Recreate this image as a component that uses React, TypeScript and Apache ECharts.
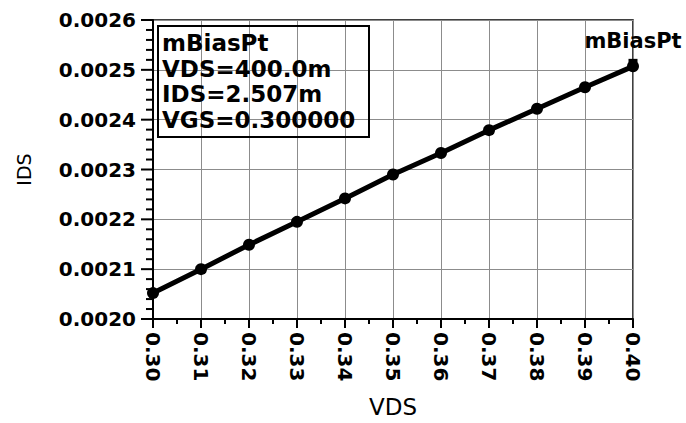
import React, { useEffect, useRef } from "react";
import * as echarts from "echarts";

const vds = [0.30, 0.31, 0.32, 0.33, 0.34, 0.35, 0.36, 0.37, 0.38, 0.39, 0.40];
const ids = [0.002052, 0.0021, 0.002149, 0.002195, 0.002242, 0.00229, 0.002333, 0.002379, 0.002422, 0.002465, 0.002507];

const markerName = "mBiasPt";
const markerVds = 0.40;
const markerIds = 0.002507;
const markerLines = ["mBiasPt", "VDS=400.0m", "IDS=2.507m", "VGS=0.300000"];

const xMin = 0.30;
const xMax = 0.40;
const xStep = 0.01;
const xMinorPerMajor = 2;
const yMin = 0.0020;
const yMax = 0.0026;
const yStep = 0.0001;
const yMinorPerMajor = 5;

const xName = "VDS";
const yName = "IDS";

const FONT = '"DejaVu Sans", sans-serif';

export default function App() {
  const ref = useRef<HTMLDivElement>(null);
  useEffect(() => {
    const chart = echarts.init(ref.current!, null, { renderer: "svg" });
    const boxGraphics: any[] = [
      {
        type: "rect",
        shape: { x: 158, y: 26, width: 211, height: 111 },
        style: { fill: "none", stroke: "#000", lineWidth: 2 },
        z: 10,
      },
      ...markerLines.map((t, i) => ({
        type: "text",
        x: 162,
        y: 43 + i * 25.7,
        z: 10,
        style: {
          text: t,
          font: `bold 23px ${FONT}`,
          fill: "#000",
          verticalAlign: "middle",
        },
      })),
    ];
    chart.setOption({
      animation: false,
      backgroundColor: "#ffffff",
      grid: {
        left: 153,
        right: 53,
        top: 20,
        bottom: 100,
        show: true,
        borderColor: "#000",
        borderWidth: 1.5,
        backgroundColor: "transparent",
      },
      xAxis: {
        type: "value",
        min: xMin,
        max: xMax,
        interval: xStep,
        name: xName,
        nameLocation: "middle",
        nameGap: 76,
        nameTextStyle: { fontFamily: FONT, fontSize: 23, color: "#000" },
        axisLine: { show: true, onZero: false, lineStyle: { color: "#000", width: 2 } },
        axisTick: { show: false },
        axisLabel: {
          rotate: -90,
          margin: 13,
          fontFamily: FONT,
          fontWeight: "bold",
          fontSize: 20,
          color: "#000",
          formatter: (v: number) => v.toFixed(2),
        },
        splitLine: { show: true, lineStyle: { color: "#8c8c8c", width: 1 } },
      },
      yAxis: {
        type: "value",
        min: yMin,
        max: yMax,
        interval: yStep,
        name: yName,
        nameLocation: "middle",
        nameGap: 120,
        nameTextStyle: { fontFamily: FONT, fontSize: 19, color: "#000" },
        axisLine: { show: true, onZero: false, lineStyle: { color: "#000", width: 2 } },
        axisTick: { show: false },
        axisLabel: {
          margin: 17,
          fontFamily: FONT,
          fontWeight: "bold",
          fontSize: 20,
          color: "#000",
          formatter: (v: number) => v.toFixed(4),
        },
        splitLine: { show: true, lineStyle: { color: "#8c8c8c", width: 1 } },
      },
      series: [
        {
          type: "line",
          data: vds.map((x, i) => [x, ids[i]]),
          lineStyle: { color: "#000", width: 5 },
          itemStyle: { color: "#000" },
          symbol: "circle",
          symbolSize: 12,
          showSymbol: true,
          z: 4,
          markPoint: {
            symbol: "rect",
            symbolSize: 9,
            symbolOffset: [0, -3],
            itemStyle: { color: "#000" },
            label: {
              show: true,
              position: "top",
              distance: 7,
              formatter: markerName,
              fontFamily: FONT,
              fontWeight: "bold",
              fontSize: 21,
              color: "#000",
            },
            data: [{ coord: [markerVds, markerIds] }],
          },
        },
      ],
      graphic: boxGraphics,
    });

    // Major and minor tick marks, positioned through the chart's own scales
    const tickGraphics: any[] = [];
    const nY = Math.round((yMax - yMin) / yStep) * yMinorPerMajor;
    for (let i = 0; i <= nY; i++) {
      const v = yMin + (i * yStep) / yMinorPerMajor;
      const p = chart.convertToPixel({ gridIndex: 0 }, [xMin, v]) as number[];
      const len = i % yMinorPerMajor === 0 ? 12 : 7;
      tickGraphics.push({
        type: "line",
        shape: { x1: p[0] - len, y1: p[1], x2: p[0], y2: p[1] },
        style: { stroke: "#000", lineWidth: 2 },
        z: 100,
      });
    }
    const nX = Math.round((xMax - xMin) / xStep) * xMinorPerMajor;
    for (let i = 0; i <= nX; i++) {
      const v = xMin + (i * xStep) / xMinorPerMajor;
      const p = chart.convertToPixel({ gridIndex: 0 }, [v, yMin]) as number[];
      const len = i % xMinorPerMajor === 0 ? 9 : 5;
      tickGraphics.push({
        type: "line",
        shape: { x1: p[0], y1: p[1], x2: p[0], y2: p[1] + len },
        style: { stroke: "#000", lineWidth: 2 },
        z: 100,
      });
    }
    chart.setOption({ graphic: [...boxGraphics, ...tickGraphics] });

    return () => chart.dispose();
  }, []);
  return (
    <div
      ref={ref}
      style={{ position: "fixed", left: 0, top: 0, width: 686, height: 423, background: "#fff" }}
    />
  );
}
